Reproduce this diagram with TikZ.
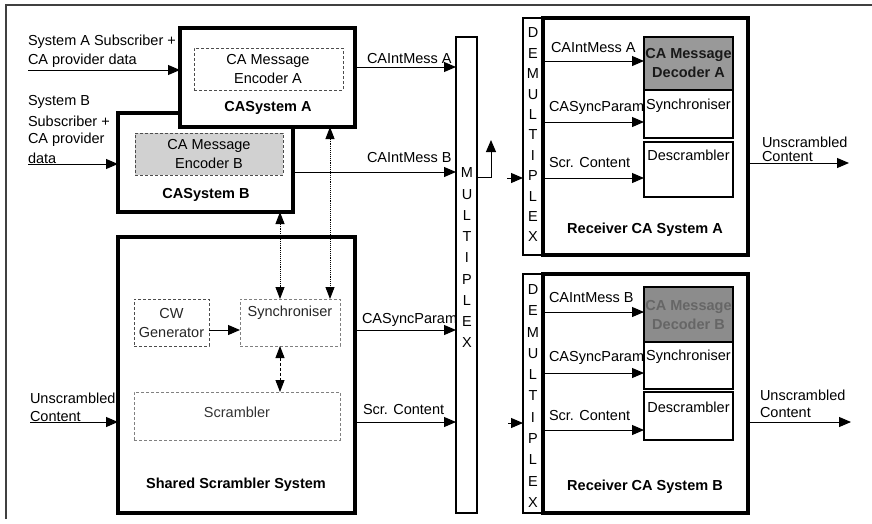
\documentclass[tikz,border=0pt]{standalone}
\usepackage{fontspec}
\setmainfont{Liberation Sans}
\usetikzlibrary{arrows.meta}
\begin{document}
\begin{tikzpicture}[x=1pt,y=-1pt,
  every node/.style={font=\fontsize{14.5}{19}\selectfont, inner sep=0pt, outer sep=0pt},
  thick box/.style={draw, line width=3.6pt, anchor=north west},
  thin box/.style={draw, line width=1.1pt, anchor=north west},
  dash box/.style={draw=black!70, densely dashed, line width=0.8pt, anchor=north west},
  lbl/.style={anchor=west},
  bold lbl/.style={font=\fontsize{14.5}{19}\selectfont\bfseries},
  arr/.style={line width=1pt, -{Triangle[length=12pt,width=10pt]}},
  darr/.style={line width=0.9pt, densely dotted, {Triangle[length=12pt,width=9pt]}-{Triangle[length=12pt,width=9pt]}},
  vtext/.style={align=center}
]
\useasboundingbox (0,0) rectangle (872,523);
% frame
\draw[line width=1.2pt, black!75] (6,519) -- (6,5) -- (872,5);

% CASystem B (behind A)
\node[thick box, fill=white, minimum width=175pt, minimum height=99pt] (casB) at (118,113) {};
\node[dash box, fill=black!18, minimum width=148pt, minimum height=42pt] (encB) at (135,133) {};
\node[align=center] (encBt) at (209,154) {CA Message\\Encoder B};
\node[bold lbl] (casBt) at (206,195) {CASystem B};

% CASystem A
\node[thick box, fill=white, minimum width=175pt, minimum height=99pt] (casA) at (180,28) {};
\node[dash box, minimum width=149pt, minimum height=42pt] (encA) at (194,48) {};
\node[align=center] (encAt) at (268,69) {CA Message\\Encoder A};
\node[bold lbl] (casAt) at (268,108) {CASystem A};

% Shared scrambler system
\node[thick box, minimum width=237pt, minimum height=276pt] (shared) at (118,237) {};
\node[dash box, minimum width=75pt, minimum height=47pt] (cw) at (134,299) {};
\node[align=center, text=black!85] (cwt) at (171.5,322.5) {CW\\Generator};
\node[dash box, draw=black!50, minimum width=100pt, minimum height=47pt] (syncS) at (240,299) {};
\node[text=black!85] (syncSt) at (290,313) {Synchroniser};
\node[dash box, draw=black!50, minimum width=206pt, minimum height=48pt] (scr) at (134,392) {};
\node[text=black!80] (scrt) at (237,412) {Scrambler};
\node[bold lbl] (sharedt) at (236,485) {Shared Scrambler System};

% Multiplex
\node[thin box, minimum width=21pt, minimum height=476pt] (mux) at (456,37) {};
\node[vtext, font=\fontsize{14.5}{21.25}\selectfont] (muxt) at (467,258) {M\\U\\L\\T\\I\\P\\L\\E\\X};

% Receiver A
\node[thin box, minimum width=20pt, minimum height=237pt] (dmxA) at (523,18) {};
\node[vtext, font=\fontsize{14.5}{20.4}\selectfont] (dmxAt) at (533,135) {D\\E\\M\\U\\L\\T\\I\\P\\L\\E\\X};
\node[thick box, minimum width=205pt, minimum height=237pt] (recA) at (543,18) {};
\node[thin box, fill=black!40, line width=1.6pt, minimum width=89pt, minimum height=53pt] (decA) at (644,37) {};
\node[align=center, font=\fontsize{14.5}{19}\selectfont\bfseries, text=black!90] (decAt) at (688.5,63.5) {CA Message\\Decoder A};
\node[thin box, minimum width=89pt, minimum height=48pt] (syncA) at (644,90) {};
\node (syncAt) at (688.5,106) {Synchroniser};
\node[thin box, minimum width=89pt, minimum height=55pt] (descA) at (644,142) {};
\node (descAt) at (688.5,155) {Descrambler};
\node[bold lbl] (recAt) at (645,230) {Receiver CA System A};

% Receiver B
\node[thin box, minimum width=20pt, minimum height=239pt] (dmxB) at (523,274) {};
\node[vtext, font=\fontsize{14.5}{21.3}\selectfont] (dmxBt) at (533,396) {D\\E\\M\\U\\L\\T\\I\\P\\L\\E\\X};
\node[thick box, minimum width=205pt, minimum height=239pt] (recB) at (543,274) {};
\node[thin box, fill=black!45, line width=1.6pt, minimum width=89pt, minimum height=55pt] (decB) at (644,287) {};
\node[align=center, font=\fontsize{14.5}{19}\selectfont\bfseries, text=black!60] (decBt) at (688.5,314.5) {CA Message\\Decoder B};
\node[thin box, minimum width=89pt, minimum height=47pt] (syncB) at (644,342) {};
\node (syncBt) at (688.5,357) {Synchroniser};
\node[thin box, minimum width=89pt, minimum height=48pt] (descB) at (644,392) {};
\node (descBt) at (688.5,407) {Descrambler};
\node[bold lbl] (recBt) at (645,487) {Receiver CA System B};

% Left inputs
\node[lbl] (inAt1) at (28,42) {System A Subscriber +};
\node[lbl] (inAt2) at (28,61) {CA provider data};
\coordinate (inA) at (28,70);
\draw[arr] (inA) -- (casA.west |- inA);
\node[lbl] (inBt1) at (28,102) {System B};
\node[lbl] (inBt2) at (28,121) {Subscriber +};
\node[lbl] (inBt3) at (28,140) {CA provider};
\node[lbl] (inBt4) at (28,158) {data};
\coordinate (inB) at (28,164);
\draw[arr] (inB) -- (casB.west |- inB);
\node[lbl] (inCt1) at (30,398) {Unscrambled};
\node[lbl] (inCt2) at (30,416) {Content};
\coordinate (inC) at (30,422);
\draw[arr] (inC) -- (shared.west |- inC);

% Sender outputs to multiplex
\coordinate (oA) at (0,67);
\coordinate (oB) at (0,172);
\coordinate (oS) at (0,330);
\coordinate (oC) at (0,422);
\draw[arr] (casA.east |- oA) -- (mux.west |- oA);
\node[lbl] (oAt) at (367,59) {CAIntMess A};
\draw[arr] (casB.east |- oB) -- (mux.west |- oB);
\node[lbl] (oBt) at (367,158) {CAIntMess B};
\draw[arr] (shared.east |- oS) -- (mux.west |- oS);
\node[lbl] (oSt) at (362,320) {CASyncParam};
\draw[arr] (shared.east |- oC) -- (mux.west |- oC);
\node[lbl] (oCt) at (363,409) {Scr. Content};

% internal arrows
\draw[arr] (cw.east |- 0,330) -- (syncS.west |- 0,330);
\draw[darr, densely dashed] (280,0 |- syncS.south) -- (280,0 |- scr.north);
\draw[darr] (casB.south -| 280,0) -- (syncS.north -| 280,0);
\draw[darr] (casA.south -| 330,0) -- (syncS.north -| 330,0);

% multiplex out
\coordinate (mo) at (0,177);
\draw[arr] (mux.east |- mo) -- ++(14,0) -- ++(0,-37);
\draw[arr] (507,178) -- (dmxA.west |- 0,178);
\draw[arr] (508,423) -- (dmxB.west |- 0,423);

% Receiver A arrows
\draw[arr] (dmxA.east |- 0,61) -- (decA.west |- 0,61);
\node[lbl] (rA1) at (551,48) {CAIntMess A};
\draw[arr] (dmxA.east |- 0,122) -- (syncA.west |- 0,122);
\node[lbl] (rA2) at (549,108) {CASyncParam};
\draw[arr] (dmxA.east |- 0,178) -- (descA.west |- 0,178);
\node[lbl] (rA3) at (549,163) {Scr. Content};
\draw[arr] (recA.east |- 0,163) -- (849,163);
\node[lbl] (uA1) at (762,142) {Unscrambled};
\node[lbl] (uA2) at (762,157) {Content};

% Receiver B arrows
\draw[arr] (dmxB.east |- 0,312) -- (decB.west |- 0,312);
\node[lbl] (rB1) at (549,297) {CAIntMess B};
\draw[arr] (dmxB.east |- 0,373) -- (syncB.west |- 0,373);
\node[lbl] (rB2) at (549,358) {CASyncParam};
\draw[arr] (dmxB.east |- 0,430) -- (descB.west |- 0,430);
\node[lbl] (rB3) at (549,415) {Scr. Content};
\draw[arr] (recB.east |- 0,422) -- (851,422);
\node[lbl] (uB1) at (760,395) {Unscrambled};
\node[lbl] (uB2) at (760,412) {Content};
\end{tikzpicture}
\end{document}
